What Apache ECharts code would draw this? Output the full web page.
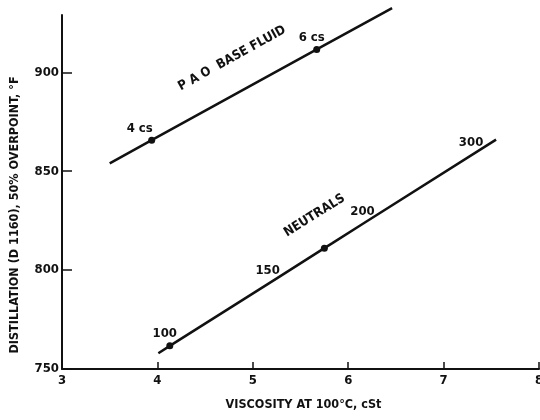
<!DOCTYPE html>
<html lang="en">
  <head>
    <meta charset="utf-8" />
    <title>Distillation vs viscosity</title>
    <script src="https://cdn.jsdelivr.net/npm/echarts@6/dist/echarts.min.js"></script>
    <style>
      html, body { margin: 0; padding: 0; background: #fff; }
      #chart { width: 540px; height: 420px; }
    </style>
  </head>
  <body>
    <div id="chart"></div>
    <script>
      // axis ticks
      var xTicks = [3, 4, 5, 6, 7, 8]
      var yTicks = [750, 800, 850, 900]

      // PAO base fluid line (viscosity cSt, distillation °F)
      var paoX = [3.50, 3.94, 4.95, 5.67, 6.46]
      var paoY = [854, 865.7, 892.5, 911.6, 932.5]
      var paoText = ['', '4 cs', 'P A O  BASE FLUID', '6 cs', '']
      var paoDot = [false, true, false, true, false]

      // neutrals line
      var neuX = [4.01, 4.13, 5.26, 5.75, 5.83, 6.15, 7.55]
      var neuY = [758, 761.7, 796.1, 811.1, 813.5, 823.3, 866]
      var neuText = ['', '100', '150', '', 'NEUTRALS', '200', '300']
      var neuDot = [false, true, false, true, false, false, false]

      var FONT = "'Liberation Sans Narrow', 'DejaVu Sans Condensed', sans-serif"
      var INK = '#111'

      // where each label sits relative to its point on the line
      var labelStyle = {
        '4 cs': { offset: [-12, -12] },
        '6 cs': { offset: [-5, -12] },
        'P A O  BASE FLUID': { offset: [0, -33], rotate: 29 },
        '100': { offset: [-5, -12] },
        '150': { offset: [-10, -7] },
        'NEUTRALS': { offset: [0, -33], rotate: 32 },
        '200': { offset: [0, -12] },
        '300': { offset: [-25, 3] }
      }

      function buildData(xs, ys, texts, dots) {
        return xs.map(function (x, i) {
          // plain points keep a tiny invisible symbol so their label can still show
          var item = {
            value: [x, ys[i]],
            symbol: 'circle',
            symbolSize: dots[i] ? 7 : 0.01
          }
          var t = texts[i]
          if (t) {
            var s = labelStyle[t]
            item.label = {
              show: true,
              formatter: t,
              position: 'inside',
              offset: s.offset,
              rotate: s.rotate || 0,
              color: INK,
              fontFamily: FONT,
              fontWeight: 'bold',
              fontSize: 13
            }
          }
          return item
        })
      }

      function lineSeries(name, data) {
        return {
          name: name,
          type: 'line',
          data: data,
          clip: false,
          showSymbol: true,
          showAllSymbol: true,
          itemStyle: { color: INK },
          lineStyle: { color: INK, width: 2.5 },
          emphasis: { disabled: true },
          animation: false
        }
      }

      var chart = echarts.init(document.getElementById('chart'))
      chart.setOption({
        backgroundColor: '#fff',
        animation: false,
        grid: { left: 62, right: 1, top: 15, bottom: 51, containLabel: false, outerBoundsMode: 'none' },
        xAxis: {
          type: 'value',
          min: 3,
          max: 8,
          interval: 1,
          name: 'VISCOSITY AT 100°C, cSt',
          nameLocation: 'middle',
          nameGap: 29,
          nameTextStyle: { color: INK, fontFamily: FONT, fontWeight: 'bold', fontSize: 12.5, padding: [0, 0, 0, 6] },
          axisLine: { lineStyle: { color: INK, width: 2 } },
          axisTick: { inside: true, length: 7, lineStyle: { color: INK, width: 1.5 } },
          axisLabel: {
            margin: 5,
            color: INK, fontFamily: FONT, fontWeight: 'bold', fontSize: 13,
            formatter: function (v) { return xTicks.indexOf(v) >= 0 ? String(v) : '' }
          },
          splitLine: { show: false }
        },
        yAxis: {
          type: 'value',
          min: 750,
          max: 929,
          name: 'DISTILLATION (D 1160), 50% OVERPOINT, °F',
          nameLocation: 'middle',
          nameGap: 41,
          nameRotate: 90,
          // the title sits lower than the axis middle in the original
          nameTextStyle: { color: INK, fontFamily: FONT, fontWeight: 'bold', fontSize: 12.5, padding: [0, 46, 0, 0] },
          axisLine: { show: true, lineStyle: { color: INK, width: 2 } },
          axisTick: { show: true, inside: true, length: 10, customValues: yTicks, lineStyle: { color: INK, width: 1.5 } },
          axisLabel: {
            margin: 3,
            customValues: yTicks,
            color: INK, fontFamily: FONT, fontWeight: 'bold', fontSize: 13
          },
          splitLine: { show: false }
        },
        series: [
          lineSeries('PAO base fluid', buildData(paoX, paoY, paoText, paoDot)),
          lineSeries('Neutrals', buildData(neuX, neuY, neuText, neuDot))
        ]
      })
    </script>
  </body>
</html>
